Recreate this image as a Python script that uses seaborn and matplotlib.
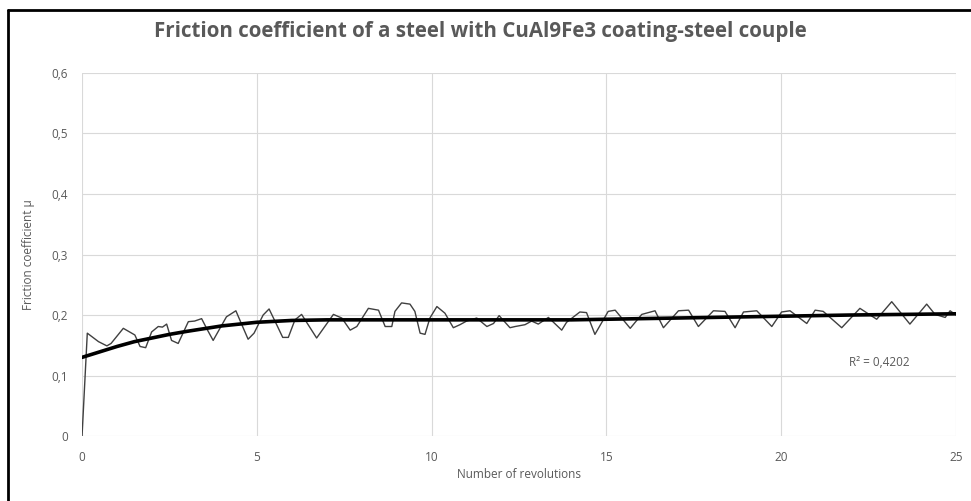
import matplotlib
matplotlib.use('Agg')
import matplotlib.pyplot as plt
from matplotlib.lines import Line2D
from matplotlib.ticker import FuncFormatter
import seaborn as sns

revolutions = [0, 0.15, 0.47, 0.71, 0.83, 1.18, 1.51, 1.66, 1.82, 1.99, 2.18, 2.30, 2.42,
               2.56, 2.75, 3.04, 3.22, 3.42, 3.58, 3.75, 4.13, 4.40, 4.60, 4.75, 4.92,
               5.18, 5.35, 5.60, 5.74, 5.90, 6.09, 6.28, 6.71, 7.19, 7.43, 7.67, 7.86,
               8.19, 8.48, 8.67, 8.86, 8.95, 9.14, 9.38, 9.52, 9.67, 9.81, 9.95, 10.15,
               10.38, 10.62, 10.81, 11.00, 11.29, 11.58, 11.77, 11.93, 12.24, 12.39,
               12.67, 12.86, 13.05, 13.34, 13.72, 13.86, 14.24, 14.43, 14.67, 15.05,
               15.25, 15.68, 16.01, 16.39, 16.63, 17.06, 17.35, 17.63, 18.06, 18.39,
               18.68, 18.92, 19.30, 19.73, 20.01, 20.25, 20.73, 20.97, 21.20, 21.73,
               22.25, 22.73, 23.16, 23.68, 24.16, 24.40, 24.69, 24.83, 25.00]
friction = [0, 0.170, 0.156, 0.149, 0.153, 0.178, 0.167, 0.148, 0.146, 0.172, 0.181, 0.180, 0.185,
            0.158, 0.153, 0.189, 0.190, 0.194, 0.176, 0.158, 0.197, 0.207, 0.180, 0.160, 0.170,
            0.200, 0.210, 0.180, 0.163, 0.163, 0.192, 0.201, 0.162, 0.201, 0.195, 0.175, 0.181,
            0.211, 0.208, 0.181, 0.181, 0.206, 0.220, 0.218, 0.206, 0.170, 0.168, 0.195, 0.214,
            0.203, 0.179, 0.184, 0.190, 0.195, 0.181, 0.186, 0.199, 0.179, 0.181,
            0.184, 0.190, 0.185, 0.196, 0.175, 0.188, 0.205, 0.204, 0.168, 0.206,
            0.208, 0.178, 0.201, 0.207, 0.179, 0.207, 0.208, 0.181, 0.207, 0.206,
            0.179, 0.205, 0.207, 0.181, 0.205, 0.207, 0.186, 0.208, 0.206, 0.179,
            0.211, 0.193, 0.222, 0.185, 0.218, 0.201, 0.196, 0.207, 0.200]

# trend line as drawn in the picture
trend_x = [0, 0.5, 1, 1.5, 2, 2.5, 3, 4, 5, 6, 7, 10, 14, 16, 19, 22, 25]
trend_y = [0.130, 0.139, 0.148, 0.156, 0.162, 0.168, 0.173, 0.182, 0.188, 0.191, 0.192,
           0.192, 0.192, 0.194, 0.197, 0.200, 0.202]

x_ticks = [0, 5, 10, 15, 20, 25]
y_ticks = [0, 0.1, 0.2, 0.3, 0.4, 0.5, 0.6]

sns.set_style('whitegrid', {'grid.color': '#d9d9d9'})
plt.rcParams['font.family'] = ['Open Sans', 'DejaVu Sans']

fig = plt.figure(figsize=(9.71, 5.01), dpi=100)
ax = fig.add_axes([0.0845, 0.1297, 0.9001, 0.7246])

sns.lineplot(x=revolutions, y=friction, ax=ax, color='#404040', linewidth=1.0)
sns.lineplot(x=trend_x, y=trend_y, ax=ax, color='black', linewidth=2.6)

ax.set_xlim(0, 25)
ax.set_ylim(0, 0.6)
ax.set_xticks(x_ticks)
ax.set_yticks(y_ticks)
ax.yaxis.set_major_formatter(FuncFormatter(lambda v, p: '0' if v == 0 else f'{v:.1f}'.replace('.', ',')))
ax.tick_params(colors='#595959', labelsize=8.5, length=0)
ax.tick_params(axis='x', pad=11)
ax.tick_params(axis='y', pad=10)
for s in ax.spines.values():
    s.set_visible(False)
ax.grid(True, color='#d9d9d9', linewidth=0.8)

ax.set_xlabel('Number of revolutions', fontsize=8.5, color='#595959', labelpad=3)
ax.set_ylabel('Friction coefficient \u00b5', fontsize=8.5, color='#595959', labelpad=12)
fig.text(0.495, 0.937, 'Friction coefficient of a steel with CuAl9Fe3 coating-steel couple',
         ha='center', va='center', fontsize=14.8, fontweight='bold', color='#595959')
ax.text(22.8, 0.122, 'R\u00b2 = 0,4202', ha='center', va='center', fontsize=8.5, color='#595959')

# chart frame (left and top edges visible)
fig.add_artist(Line2D([0.008, 0.008], [0, 0.98], transform=fig.transFigure, color='black', linewidth=2))
fig.add_artist(Line2D([0.008, 1.0], [0.98, 0.98], transform=fig.transFigure, color='black', linewidth=2))

fig.savefig('out.png', dpi=100)
